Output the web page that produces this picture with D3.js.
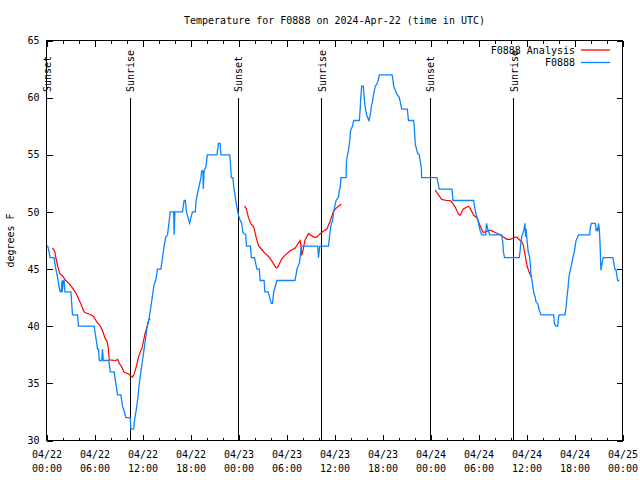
<!DOCTYPE html>
<html>
<head>
<meta charset="utf-8">
<script src="https://cdn.jsdelivr.net/npm/d3@7"></script>
<style>
  body { margin: 0; background: #fff; }
  text { font-family: "DejaVu Sans Mono", monospace; font-size: 10px; fill: #000; }
</style>
</head>
<body>
<div id="chart"></div>
<script>
/* DATA (hours after 2024-04-22 00:00 UTC, degrees F) */
const stationName = "F0888";
const titleText = "Temperature for F0888 on 2024-Apr-22 (time in UTC)";

const xMajor = [0, 6, 12, 18, 24, 30, 36, 42, 48, 54, 60, 66, 72];
const xDays = ["04/22","04/22","04/22","04/22","04/23","04/23","04/23","04/23","04/24","04/24","04/24","04/24","04/25"];
const xTimes = ["00:00","06:00","12:00","18:00","00:00","06:00","12:00","18:00","00:00","06:00","12:00","18:00","00:00"];
const xMinor = d3.range(0, 73, 2);
const yTicks = [30, 35, 40, 45, 50, 55, 60, 65];

const sunsets = [0.0, 23.98, 47.98];
const sunrises = [10.45, 34.4, 58.38];

// observed temperature (blue)
const observed = [
  [0.0,47],[0.15,47],[0.3,46.6],[0.45,46],[0.95,46],[1.05,45.5],[1.17,45],[1.38,44.3],[1.59,43.4],[1.71,43],
  [1.85,43],[1.92,44],[1.98,43],[2.1,44],[2.2,44],[2.3,43],[3.05,43],[3.2,41.5],[3.25,41],[3.88,41],
  [4.0,40],[5.96,40],[6.17,39],[6.38,38],[6.5,38],[6.6,37],[6.9,37],[7.0,38],[7.1,37],[7.8,37],
  [7.96,36],[8.46,36],[8.67,35],[8.88,34],[9.3,34],[9.5,33],[9.7,32.6],[9.92,32],[10.46,32],[10.55,31],
  [10.88,31],[11.05,32],[11.2,32.6],[11.38,33.5],[11.6,35],[11.8,36],[12.0,37],[12.2,38],[12.4,39],[12.6,40],
  [12.8,40.6],[13.05,41.7],[13.25,42.7],[13.46,43.7],[13.65,44],[13.88,45],[14.3,45],[14.5,46],[14.7,47],[14.9,47.8],
  [15.13,48],[15.3,49],[15.46,50],[15.9,50],[15.96,48],[16.05,50],[17.0,50],[17.2,51],[17.35,51],[17.5,50],
  [17.8,49.2],[17.9,49],[18.05,49.5],[18.25,50],[18.6,50],[18.7,51],[18.9,51.7],[19.0,52],[19.3,53],[19.4,53.6],
  [19.55,53.6],[19.6,52],[19.7,53.6],[19.95,54],[20.1,55],[21.3,55],[21.5,56],[21.7,56],[21.8,55],[22.9,55],
  [23.0,54.2],[23.1,53],[23.3,53],[23.4,52.2],[23.6,51.3],[23.8,50.4],[24.0,49.7],[24.2,49.3],[24.4,49],[24.55,48.2],
  [24.9,48],[25.0,47],[25.5,47],[25.6,46],[26.0,46],[26.3,45],[26.6,45],[26.7,44],[27.2,44],[27.3,43],
  [27.7,43],[27.9,42.5],[28.1,42],[28.25,42],[28.4,43],[28.6,43.5],[28.8,44],[31.05,44],[31.2,44.5],[31.3,45],
  [31.6,45.5],[31.7,46],[31.85,47],[33.9,47],[34.0,46],[34.15,47],[35.25,47],[35.37,47.8],[35.46,48.4],[35.6,49],
  [35.75,49.2],[35.9,50],[36.1,50.7],[36.2,51],[36.5,51.3],[36.6,51.9],[36.7,52],[36.8,53],[37.45,53],[37.5,54.5],
  [37.75,55.4],[37.9,56.2],[38.0,57.1],[38.2,57.4],[38.4,58],[39.1,58],[39.2,58.9],[39.3,60.2],[39.4,61],[39.6,61],
  [39.75,59.7],[39.9,58.9],[40.05,58.4],[40.3,58],[40.45,58.4],[40.6,59.2],[40.75,59.7],[40.95,60.5],[41.1,61],[41.3,61.2],
  [41.5,61.6],[41.6,62],[43.2,62],[43.3,61.6],[43.4,61],[43.8,60.3],[44.1,60],[44.2,59.7],[44.4,59],[45.1,59],
  [45.25,58],[45.9,58],[46.0,57.1],[46.1,55.9],[46.4,55.1],[46.6,55],[46.7,54.5],[46.85,53.9],[46.9,53],[48.8,53],
  [49.1,52],[50.7,52],[50.8,51],[53.4,51],[53.46,50.7],[53.6,50.1],[53.7,49.8],[53.9,49.4],[54.0,49],[54.2,48.4],
  [54.4,48],[54.9,48],[55.0,49],[55.2,48.4],[55.4,48],[56.9,48],[57.05,47.3],[57.1,46.6],[57.25,46],[59.1,46],
  [59.2,46.6],[59.3,47.3],[59.4,47.9],[59.5,48],[59.7,48.5],[59.8,49],[59.9,47.8],[59.96,48.5],[60.0,48],[60.1,47.3],
  [60.2,46.6],[60.4,46],[60.5,45.2],[60.55,44.4],[60.7,44],[60.8,43.4],[60.96,42.8],[61.1,42.5],[61.2,42.1],[61.4,42],
  [61.5,41.7],[61.6,41.4],[61.8,41],[63.4,41],[63.5,40.2],[63.67,40],[63.9,40],[64.0,40.8],[64.1,41],[64.8,41],
  [64.96,41.7],[65.05,42.5],[65.2,43.4],[65.3,44.3],[65.5,45],[65.6,45.3],[65.8,46],[66.0,46.6],[66.1,47.1],[66.2,47.5],
  [66.4,47.8],[66.5,48],[67.9,48],[67.96,48.5],[68.1,49],[68.6,49],[68.7,48.4],[68.8,48.5],[68.9,48.3],[69.0,49],
  [69.1,48.5],[69.2,47.1],[69.3,44.9],[69.4,45.3],[69.5,45.7],[69.6,46],[70.8,46],[70.9,45.6],[71.05,45],[71.2,44.9],
  [71.3,44.4],[71.4,44],[71.6,44]
];

// analysis temperature (red), three runs
const analysisRun1 = [
  [0.75,46.85],[1.05,46.5],[1.17,46],[1.38,45.3],[1.5,45],[1.67,44.6],[2.0,44.4],[2.42,44],[2.84,43.7],[3.25,43.35],
  [3.67,42.9],[4.0,42.4],[4.3,41.95],[4.6,41.4],[4.8,41.2],[5.55,41],[5.9,40.85],[6.3,40.35],[6.7,40.05],[7.0,39.6],
  [7.3,39],[7.6,38.6],[7.75,38],[7.84,37.05],[8.67,37],[8.88,37.1],[9.1,36.75],[9.3,36.55],[9.7,36],[10.3,35.8],
  [10.75,35.55],[10.96,35.85],[11.2,36.4],[11.5,37.3],[11.8,37.9],[11.92,38],[12.05,38.45],[12.3,39.3],[12.55,39.9],[12.75,40.5],
  [12.96,40.65]
];
const analysisRun2 = [
  [24.75,50.5],[24.96,50.3],[25.25,49.5],[25.55,48.95],[25.9,48.7],[26.2,47.8],[26.5,47.05],[26.8,46.8],[27.3,46.4],[27.75,46.1],
  [28.17,45.7],[28.6,45.2],[28.8,45.1],[29.0,45.3],[29.4,45.9],[29.8,46.2],[30.46,46.6],[31.1,46.85],[31.5,47.3],[31.7,47.5],
  [31.84,46.9],[31.9,46.2],[32.05,46.6],[32.3,47.5],[32.75,48.1],[33.4,47.8],[33.8,47.8],[34.2,48.1],[34.6,48.3],[35.05,48.5],
  [35.46,49.2],[35.9,50.1],[36.3,50.4],[36.7,50.6],[36.85,50.7]
];
const analysisRun3 = [
  [48.6,51.9],[49.0,51.5],[49.4,51.1],[50.0,51],[50.46,51],[50.67,50.85],[51.1,50.4],[51.5,49.8],[51.7,49.7],[52.1,50.26],
  [52.75,50.5],[52.96,50.3],[53.4,49.7],[53.8,49.5],[54.2,48.8],[54.6,48.2],[55.5,48.4],[56.1,48.2],[56.7,48],[57.55,47.6],
  [57.96,47.6],[58.6,47.8],[58.8,47.8],[59.2,47.5],[59.4,47.4],[59.6,47.1],[59.8,46.3],[59.96,45.7],[60.1,45.2],[60.4,44.6],
  [60.7,44.3]
];

const blue = "#0a84ff", red = "#ff0000";

/* SCALES */
const W = 640, H = 480;
const xScale = d3.scaleLinear().domain([0, 72]).range([46.5, 622.5]);
const yScale = d3.scaleLinear().domain([30, 65]).range([440.5, 40.5]);

const svg = d3.select("#chart").append("svg")
  .attr("width", W).attr("height", H);

svg.append("defs").append("clipPath").attr("id", "plot")
  .append("rect")
  .attr("x", xScale(0)).attr("y", yScale(65))
  .attr("width", xScale(72) - xScale(0)).attr("height", yScale(30) - yScale(65));

// title
svg.append("text")
  .attr("x", (xScale(0) + xScale(72)) / 2).attr("y", 24)
  .attr("text-anchor", "middle")
  .text(titleText);

// y label
svg.append("text")
  .attr("transform", "translate(10," + (yScale(47.5)) + ")rotate(-90)")
  .attr("text-anchor", "middle").attr("dy", "0.35em")
  .text("degrees F");

/* AXES - ticks point inward like gnuplot */
function noDomain(g) { g.select(".domain").remove(); }

svg.append("g").attr("transform", "translate(0," + yScale(30) + ")")
  .call(d3.axisBottom(xScale).tickValues(xMinor).tickSize(-3).tickFormat(""))
  .call(noDomain);
svg.append("g").attr("transform", "translate(0," + yScale(65) + ")")
  .call(d3.axisTop(xScale).tickValues(xMinor).tickSize(-3).tickFormat(""))
  .call(noDomain);

const xAxisG = svg.append("g").attr("transform", "translate(0," + yScale(30) + ")")
  .call(d3.axisBottom(xScale).tickValues(xMajor).tickSize(-6).tickFormat(""))
  .call(noDomain);
xAxisG.selectAll(".tick").each(function(d, i) {
  const t = d3.select(this).append("text")
    .attr("fill", "#000").attr("text-anchor", "middle");
  t.append("tspan").attr("x", 0).attr("y", 17).text(xDays[i]);
  t.append("tspan").attr("x", 0).attr("y", 31).text(xTimes[i]);
});
svg.append("g").attr("transform", "translate(0," + yScale(65) + ")")
  .call(d3.axisTop(xScale).tickValues(xMajor).tickSize(-6).tickFormat(""))
  .call(noDomain);

svg.append("g").attr("transform", "translate(" + xScale(0) + ",0)")
  .call(d3.axisLeft(yScale).tickValues(yTicks).tickSize(-6).tickPadding(7))
  .call(noDomain)
  .selectAll("text").style("font-size", "10px").attr("font-family", null);
svg.append("g").attr("transform", "translate(" + xScale(72) + ",0)")
  .call(d3.axisRight(yScale).tickValues(yTicks).tickSize(-6).tickFormat(""))
  .call(noDomain);

svg.selectAll(".tick line").attr("stroke", "#000").attr("shape-rendering", "crispEdges");
svg.selectAll(".tick text").attr("fill", "#000");

/* SUNRISE / SUNSET MARKERS */
const sunEvents = sunsets.map(h => ({h: h, label: "Sunset"}))
  .concat(sunrises.map(h => ({h: h, label: "Sunrise"})));

svg.selectAll("line.sun").data(sunEvents).join("line")
  .attr("class", "sun")
  .attr("x1", d => Math.round(xScale(d.h) - 0.5) + 0.5)
  .attr("x2", d => Math.round(xScale(d.h) - 0.5) + 0.5)
  .attr("y1", 98).attr("y2", yScale(30))
  .attr("stroke", "#000").attr("stroke-width", 1)
  .attr("shape-rendering", "crispEdges");

svg.selectAll("text.sun").data(sunEvents).join("text")
  .attr("class", "sun")
  .attr("transform", d => "translate(" + (xScale(d.h) + 0.5) + ",92)rotate(-90)")
  .attr("dy", "0.35em")
  .text(d => d.label);

/* SERIES */
const line = d3.line().x(d => xScale(d[0])).y(d => yScale(d[1]));
const plot = svg.append("g").attr("clip-path", "url(#plot)");

[analysisRun1, analysisRun2, analysisRun3].forEach(run => {
  plot.append("path").datum(run)
    .attr("d", line).attr("fill", "none")
    .attr("stroke", red).attr("stroke-width", 1.2);
});

plot.append("path").datum(observed)
  .attr("d", line).attr("fill", "none")
  .attr("stroke", blue).attr("stroke-width", 1.3);

/* FRAME */
svg.append("rect")
  .attr("x", xScale(0)).attr("y", yScale(65))
  .attr("width", xScale(72) - xScale(0)).attr("height", yScale(30) - yScale(65))
  .attr("fill", "none").attr("stroke", "#000").attr("shape-rendering", "crispEdges");

/* LEGEND */
const legend = [
  {label: stationName + " Analysis", color: red},
  {label: stationName, color: blue}
];
const lg = svg.selectAll("g.legend").data(legend).join("g")
  .attr("class", "legend")
  .attr("transform", (d, i) => "translate(0," + (50 + i * 12.5) + ")");
lg.append("text")
  .attr("x", 575).attr("dy", "0.35em").attr("text-anchor", "end")
  .text(d => d.label);
lg.append("line")
  .attr("x1", 581).attr("x2", 610)
  .attr("stroke", d => d.color).attr("stroke-width", 1.3);
</script>
</body>
</html>
